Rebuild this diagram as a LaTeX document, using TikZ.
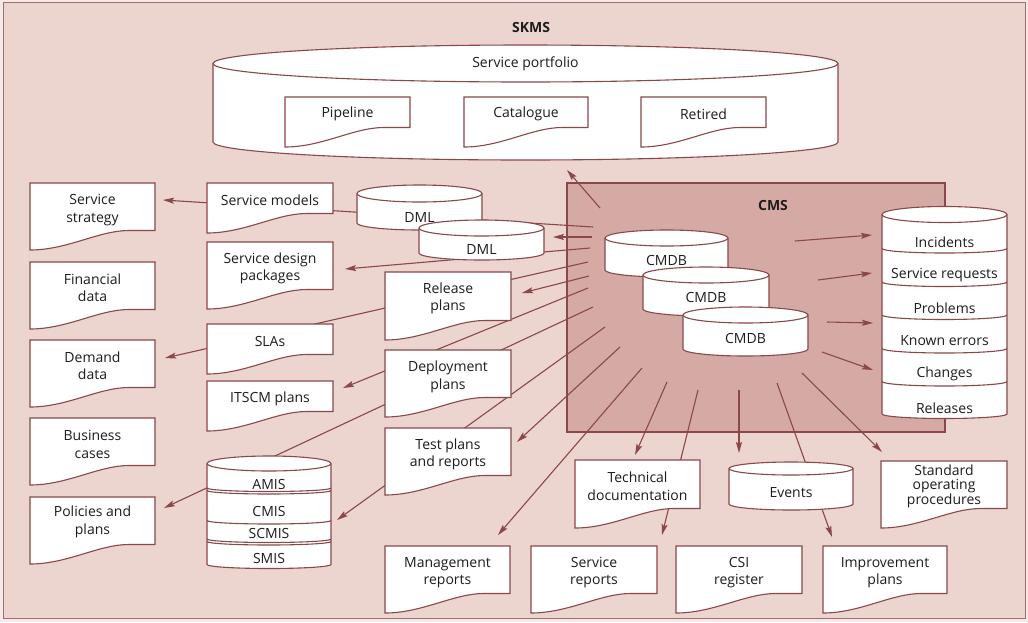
\documentclass[tikz,border=0pt]{standalone}
\usepackage{fontspec}
\setmainfont{Open Sans}
\usetikzlibrary{arrows.meta}
\definecolor{linec}{RGB}{138,72,74}
\definecolor{pinkbg}{RGB}{236,212,207}
\definecolor{cmsfill}{RGB}{214,170,164}
\definecolor{outerc}{RGB}{244,234,232}
\definecolor{txtc}{RGB}{30,28,28}
\pgfdeclarelayer{bg}\pgfdeclarelayer{lines}\pgfsetlayers{bg,lines,main}
% cylinder outline: x0 x1 ytopcentre rytop ybotcentre rybot
\newcommand\cylshape[6]{%
 \pgfmathsetmacro\cyX{(#1+#2)/2}%
 \pgfmathsetmacro\cyK{0.5523*(#2-#1)/2}%
 \filldraw[shapest] (#1,#3) -- (#1,#5) .. controls (#1,#5+0.5523*#6) and (\cyX-\cyK,#5+#6) .. (\cyX,#5+#6) .. controls (\cyX+\cyK,#5+#6) and (#2,#5+0.5523*#6) .. (#2,#5) -- (#2,#3) .. controls (#2,#3-0.5523*#4) and (\cyX+\cyK,#3-#4) .. (\cyX,#3-#4) .. controls (\cyX-\cyK,#3-#4) and (#1,#3-0.5523*#4) .. (#1,#3) -- cycle;
 \draw[lc] (#1,#3) .. controls (#1,#3+0.5523*#4) and (\cyX-\cyK,#3+#4) .. (\cyX,#3+#4) .. controls (\cyX+\cyK,#3+#4) and (#2,#3+0.5523*#4) .. (#2,#3);
}
% lower half arc: x0 x1 y ry
\newcommand\harc[4]{%
 \pgfmathsetmacro\cyX{(#1+#2)/2}%
 \pgfmathsetmacro\cyK{0.5523*(#2-#1)/2}%
 \draw[lc] (#1,#3) .. controls (#1,#3+0.5523*#4) and (\cyX-\cyK,#3+#4) .. (\cyX,#3+#4) .. controls (\cyX+\cyK,#3+#4) and (#2,#3+0.5523*#4) .. (#2,#3);
}
% cylinder with text: name x0 x1 ytc ryt ybc ryb texty text
\newcommand\cyl[9]{%
 \cylshape{#2}{#3}{#4}{#5}{#6}{#7}%
 \node[txt] (#1) at ({(#2+#3)/2},#8) {#9};
}
% document: [opts] name x0 top w h texty text
\newcommand\docu[8][]{%
 \pgfmathsetmacro\dX{#3+#5}%
 \pgfmathsetmacro\dB{#4+#6}%
 \pgfmathsetmacro\dR{#4+#6-19.5}%
 \pgfmathsetmacro\dP{#3+0.79*#5}%
 \pgfmathsetmacro\dCa{#3+0.55*#5}%
 \pgfmathsetmacro\dCb{#3+0.3*#5}%
 \filldraw[shapest] (#3,#4) -- (\dX,#4) -- (\dX,\dR) -- (\dP,\dR) .. controls (\dCa,\dR) and (\dCb,\dB) .. (#3,\dB) -- cycle;
 \node[txt,#1] (#2) at ({#3+#5/2},#7) {#8};
}
\begin{document}
\begin{tikzpicture}[x=1pt,y=-1pt,
 lc/.style={draw=linec,line width=1.1pt},
 shapest/.style={lc,fill=white},
 txt/.style={font=\fontsize{14}{17.5}\selectfont,align=center,inner sep=0pt,text=txtc},
 ttl/.style={font=\fontsize{14}{17}\selectfont\bfseries,inner sep=0pt,text=txtc},
 conn/.style={draw=linec,line width=1.1pt},
 arr/.style={conn,-{Stealth[length=11pt,width=6pt,inset=2pt]}}]

\begin{pgfonlayer}{bg}
\fill[outerc] (0,0) rectangle (1028,622);
\filldraw[fill=pinkbg,draw=linec!80,line width=1pt] (3,2) rectangle (1025,618);
\filldraw[fill=cmsfill,draw=linec,line width=1.1pt] (567,183) rectangle (945,432);
\end{pgfonlayer}

\node[ttl] (skms) at (531,27) {SKMS};
\node[ttl] (cms) at (773,205) {CMS};

% service portfolio
\cyl{portf}{213}{838}{63.5}{18.5}{142}{18}{64}{Service portfolio}
\docu{pipe}{285}{97}{125}{50}{114}{Pipeline}
\docu{cat}{464}{97}{124}{50}{114}{Catalogue}
\docu{ret}{641}{97}{125}{50}{114}{Retired}

% left column
\docu{sstrat}{30}{183}{125}{67}{210}{Service\\strategy}
\docu{fin}{30}{262}{125}{67}{287.5}{Financial\\data}
\docu{dem}{30}{340}{125}{67}{365.5}{Demand\\data}
\docu{bus}{30}{418}{125}{67}{444.5}{Business\\cases}
\docu{pol}{30}{497}{125}{67}{522}{Policies and\\plans}

% second column
\docu{smod}{207}{183}{126}{50}{200.5}{Service models}
\docu{sdp}{207}{242}{126}{67}{268.5}{Service design\\packages}
\docu{slas}{207}{324}{126}{50}{341.5}{SLAs}
\docu{itscm}{207}{381}{126}{50}{398.5}{ITSCM plans}

% AMIS stack
\cylshape{207}{331}{463.5}{7.5}{564.5}{4}
\harc{207}{331}{488}{3.5}
\harc{207}{331}{490.5}{3.5}
\harc{207}{331}{520.5}{3.5}
\harc{207}{331}{539}{3.5}
\harc{207}{331}{541.5}{3.5}
\node[txt] (amis) at (269,484.5) {AMIS};
\node[txt] (cmis) at (269,511.5) {CMIS};
\node[txt] (scmis) at (269,533.5) {SCMIS};
\node[txt] (smis) at (269,558) {SMIS};

% DML
\cyl{dml1}{357}{482}{193.5}{8.5}{223}{7}{217.5}{DML}
\cyl{dml2}{419}{544}{228}{8}{253}{7}{249.5}{DML}

% third column
\docu{rel}{385}{272}{126}{68}{298.5}{Release\\plans}
\docu{dep}{385}{350}{126}{67}{377}{Deployment\\plans}
\docu{test}{385}{428}{126}{67}{454.5}{Test plans\\and reports}
\docu{mgmt}{385}{546}{125}{67}{572.5}{Management\\reports}

% CMDB
\cyl{cmdb1}{605}{728}{238}{8}{270}{7}{260.5}{CMDB}
\cyl{cmdb2}{643}{769}{275}{8}{309}{7}{297.5}{CMDB}
\cyl{cmdb3}{683}{808}{315}{8}{349}{7}{338.5}{CMDB}

% right stack
\cylshape{882}{1007}{214.5}{8}{414}{4.5}
\harc{882}{1007}{248.5}{4.5}
\harc{882}{1007}{282}{4.5}
\harc{882}{1007}{315}{4.5}
\harc{882}{1007}{348.5}{4.5}
\harc{882}{1007}{381.5}{4.5}
\node[txt] (inc) at (944.5,242) {Incidents};
\node[txt] (sreq) at (944.5,275) {Service requests};
\node[txt] (prob) at (944.5,308) {Problems};
\node[txt] (kerr) at (944.5,341) {Known errors};
\node[txt] (chg) at (944.5,374) {Changes};
\node[txt] (rels) at (944.5,408) {Releases};

% bottom row
\docu{tech}{575}{460}{125}{68}{486}{Technical\\documentation}
\cyl{events}{729}{853}{468.5}{6.5}{504}{6}{492.5}{Events}
\docu[font=\fontsize{14}{14.5}\selectfont]{sop}{881}{461}{126}{67}{486}{Standard\\operating\\procedures}
\docu{srep}{531}{546}{126}{67}{572.5}{Service\\reports}
\docu{csi}{676}{546}{126}{67}{572.5}{CSI\\register}
\docu{impr}{823}{546}{124}{67}{572.5}{Improvement\\plans}

% connector end points
\coordinate (sA) at (600,208); \coordinate (tA) at (567,170);
\coordinate (sB) at (593,227); \coordinate (tB) at (163,200);
\coordinate (sC) at (592,237); \coordinate (tC) at (553,237);
\coordinate (sD) at (590,248); \coordinate (tD) at (345,269);
\coordinate (sE) at (588,262); \coordinate (tE) at (165,358);
\coordinate (sF) at (589,276); \coordinate (tF) at (522,293);
\coordinate (sG) at (588,288); \coordinate (tG) at (343,388);
\coordinate (sH) at (593,307); \coordinate (tH) at (164,508);
\coordinate (sI) at (605,327); \coordinate (tI) at (337,520);
\coordinate (sJ) at (620,347); \coordinate (tJ) at (517,442);
\coordinate (sK) at (642,368); \coordinate (tK) at (498,535);
\coordinate (sL) at (667,382); \coordinate (tL) at (635,455);
\coordinate (sM) at (698,390); \coordinate (tM) at (662,535);
\coordinate (sN) at (739,390); \coordinate (tN) at (739,453);
\coordinate (sO) at (777,383); \coordinate (tO) at (832,537);
\coordinate (sP) at (802,373); \coordinate (tP) at (882,452);
\coordinate (sQ) at (795,241); \coordinate (tQ) at (872,235);
\coordinate (sR) at (818,280); \coordinate (tR) at (872,273);
\coordinate (sS) at (827,322); \coordinate (tS) at (873,323);
\coordinate (sT) at (822,352); \coordinate (tT) at (873,370);

\begin{pgfonlayer}{lines}
\foreach \c in {A,B,C,D,E,F,G,H,I,J,K,L,M,N,O,P,Q,R,S,T}
  \draw[arr] (s\c) -- (t\c);
\end{pgfonlayer}
\end{tikzpicture}
\end{document}
